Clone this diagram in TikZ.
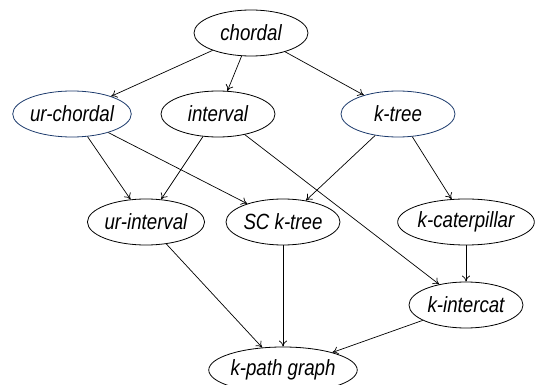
\documentclass[tikz,border=0pt]{standalone}
\usepackage{fontspec}
\setmainfont{Liberation Sans}[FakeStretch=0.85]
\usetikzlibrary{shapes.geometric,arrows.meta}
\definecolor{navy}{HTML}{1C3A6C}

\begin{document}
\begin{tikzpicture}[x=1pt,y=-1pt,font=\fontsize{22}{24}\selectfont\itshape,>={To[length=6pt,width=8pt]}]
% Two node styles: plain and marked
\tikzstyle{class node}=[ellipse,draw,line width=0.8pt,inner sep=0,minimum width=114pt,minimum height=46pt];
\tikzstyle{marked node}=[class node,draw=navy];
\tikzstyle{edge}=[->,line width=0.7pt];
\useasboundingbox (0,0) rectangle (542,385);
% The classes
\node(chordal)[class node] at (251,33){chordal};
\node(urchordal)[marked node] at (72,114){ur-chordal};
\node(interval)[class node] at (218,114){interval};
\node(ktree)[marked node] at (398,114){k-tree};
\node(urinterval)[class node] at (146,222){ur-interval};
\node(sctree)[class node] at (283,222){SC k-tree};
\node(kcat)[class node] at (466,222){k-caterpillar};
\node(kintercat)[class node] at (466,305){k-intercat};
\node(kpath)[class node] at (283,370){k-path graph};
% The inclusions
\draw[edge](chordal)--(urchordal);
\draw[edge](chordal)--(interval);
\draw[edge](chordal)--(ktree);
\draw[edge](urchordal)--(urinterval);
\draw[edge](urchordal)--(sctree);
\draw[edge](interval)--(urinterval);
\draw[edge](interval)--(kintercat);
\draw[edge](ktree)--(sctree);
\draw[edge](ktree)--(kcat);
\draw[edge](urinterval)--(kpath);
\draw[edge](sctree)--(kpath);
\draw[edge](kcat)--(kintercat);
\draw[edge](kintercat)--(kpath);
\end{tikzpicture}
\end{document}
